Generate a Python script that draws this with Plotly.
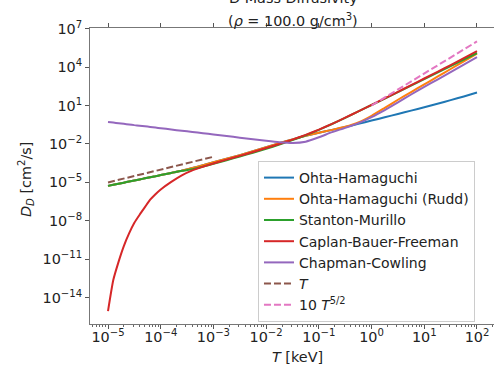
import plotly.graph_objects as go

# log10 of temperature [keV] at which the diffusivities are sampled
log_T = [-5.0, -4.9, -4.8, -4.7, -4.6, -4.5, -4.4, -4.3, -4.2, -4.1, -4.0,
         -3.8, -3.6, -3.4, -3.2, -3.0, -2.75, -2.5, -2.25, -2.0, -1.75, -1.5,
         -1.25, -1.0, -0.75, -0.5, -0.25, 0.0, 0.25, 0.5, 0.75, 1.0, 1.25,
         1.5, 1.75, 2.0]

# log10 of D_D [cm^2/s] for each model
log_D_ohta = [-5.27, -5.19, -5.10, -5.02, -4.93, -4.85, -4.77, -4.68, -4.60, -4.52, -4.43,
              -4.26, -4.09, -3.88, -3.66, -3.43, -3.15, -2.87, -2.57, -2.26, -1.95, -1.64,
              -1.36, -1.12, -0.90, -0.68, -0.43, -0.17, 0.08, 0.34, 0.60, 0.87, 1.14,
              1.42, 1.71, 2.01]
log_D_rudd = [-5.27, -5.19, -5.10, -5.02, -4.93, -4.85, -4.77, -4.68, -4.60, -4.52, -4.43,
              -4.26, -4.09, -3.88, -3.66, -3.43, -3.15, -2.87, -2.57, -2.26, -1.95, -1.64,
              -1.36, -1.12, -0.90, -0.66, -0.32, 0.20, 0.82, 1.45, 2.05, 2.65, 3.25,
              3.85, 4.45, 5.05]
log_D_stanton = [-5.27, -5.19, -5.10, -5.02, -4.93, -4.85, -4.77, -4.68, -4.60, -4.52, -4.43,
                 -4.26, -4.09, -3.98, -3.77, -3.55, -3.27, -2.98, -2.68, -2.37, -2.05, -1.70,
                 -1.32, -0.90, -0.44, 0.04, 0.54, 1.04, 1.54, 2.04, 2.55, 3.06, 3.57,
                 4.08, 4.59, 5.10]
log_D_caplan = [-15.04, -12.62, -11.20, -9.97, -8.98, -8.15, -7.52, -6.93, -6.35, -5.92, -5.55,
                -4.96, -4.45, -4.06, -3.78, -3.52, -3.22, -2.93, -2.63, -2.32, -2.00, -1.66,
                -1.29, -0.88, -0.43, 0.05, 0.55, 1.05, 1.56, 2.07, 2.59, 3.11, 3.63,
                4.16, 4.70, 5.25]
log_D_chapman = [-0.28, -0.33, -0.38, -0.43, -0.48, -0.53, -0.57, -0.62, -0.67, -0.72, -0.77,
                 -0.87, -0.97, -1.06, -1.16, -1.26, -1.38, -1.51, -1.63, -1.75, -1.86, -1.92,
                 -1.82, -1.48, -1.08, -0.74, -0.37, 0.10, 0.65, 1.25, 1.86, 2.45, 3.03,
                 3.61, 4.19, 4.78]

# reference scalings
T_lin = [1e-5, 1e-3]
D_lin = [1e-5, 1e-3]
T_pow = [1.0, 100.0]
D_pow = [10.0, 1e6]

# axis ticks
x_tick_exp = [-5, -4, -3, -2, -1, 0, 1, 2]
y_tick_exp = [7, 4, 1, -2, -5, -8, -11, -14]

FONT = "DejaVu Sans"
FS = 14.4

T = [10 ** v for v in log_T]
models = [
    ("Ohta-Hamaguchi", log_D_ohta, "#1f77b4"),
    ("Ohta-Hamaguchi (Rudd)", log_D_rudd, "#ff7f0e"),
    ("Stanton-Murillo", log_D_stanton, "#2ca02c"),
    ("Caplan-Bauer-Freeman", log_D_caplan, "#d62728"),
    ("Chapman-Cowling", log_D_chapman, "#9467bd"),
]

fig = go.Figure()
for name, vals, color in models:
    fig.add_trace(go.Scatter(
        x=T, y=[10 ** v for v in vals], mode="lines", name=name,
        line=dict(color=color, width=2, shape="spline", smoothing=0.5),
    ))
fig.add_trace(go.Scatter(
    x=T_lin, y=D_lin, mode="lines", name="<i>T</i>",
    line=dict(color="#8c564b", width=2, dash="7px,3px"),
))
fig.add_trace(go.Scatter(
    x=T_pow, y=D_pow, mode="lines", name="10 <i>T</i><sup>5/2</sup>",
    line=dict(color="#e377c2", width=2, dash="7px,3px"),
))
# carrier for the top tick axis
fig.add_trace(go.Scatter(x=[1e-5], y=[1e-5], xaxis="x2", mode="markers",
                         marker=dict(opacity=0), showlegend=False, hoverinfo="skip"))


def pow_label(e):
    return "10<sup>" + str(e).replace("-", "\u2212") + "</sup>"


minor_x = [k * 10 ** e for e in range(-6, 3) for k in range(2, 10)]

x_range = [-5.3416, 2.3226]
fig.update_layout(
    width=494, height=365,
    margin=dict(l=90, r=0, t=28, b=41),
    paper_bgcolor="white", plot_bgcolor="white",
    font=dict(family=FONT, size=FS, color="#222"),
    showlegend=True,
    legend=dict(
        x=0.4158, y=(324 - 161) / 296, xanchor="left", yanchor="top",
        bgcolor="rgba(255,255,255,0.8)", bordercolor="#cccccc", borderwidth=1,
        font=dict(family=FONT, size=14, color="#222"),
        itemwidth=30,
    ),
    xaxis=dict(
        type="log", range=x_range,
        tickmode="array", tickvals=[10 ** e for e in x_tick_exp],
        ticktext=[pow_label(e) for e in x_tick_exp],
        ticks="outside", ticklen=4, tickcolor="#555", tickwidth=1,
        ticklabelstandoff=-4,
        showline=True, linecolor="#777", linewidth=1, mirror=True,
        showgrid=False, zeroline=False,
        tickfont=dict(family=FONT, size=FS, color="#222"),
        minor=dict(tickmode="array", tickvals=minor_x, ticks="outside",
                   ticklen=2, tickcolor="#666", showgrid=False),
    ),
    xaxis2=dict(
        type="log", range=x_range, overlaying="x", side="top",
        tickmode="array", tickvals=[10 ** e for e in x_tick_exp],
        showticklabels=False, ticks="outside", ticklen=4, tickcolor="#555",
        showgrid=False, zeroline=False, showline=False,
    ),
    yaxis=dict(
        type="log", range=[-16.05, 7.05],
        tickmode="array", tickvals=[10 ** e for e in y_tick_exp],
        ticktext=[pow_label(e) for e in y_tick_exp],
        ticks="outside", ticklen=4, tickcolor="#555", tickwidth=1,
        showline=True, linecolor="#777", linewidth=1,
        showgrid=False, zeroline=False,
        tickfont=dict(family=FONT, size=FS, color="#222"),
    ),
    annotations=[
        dict(text="D Mass Diffusivity", xref="paper", yref="paper",
             x=0.5036, y=1.0997, xanchor="center", yanchor="middle",
             showarrow=False, font=dict(family=FONT, size=FS, color="#222")),
        dict(text="(<i>\u03c1</i> = 100.0 g/cm<sup>3</sup>)", xref="paper", yref="paper",
             x=0.5036, y=1.0270, xanchor="center", yanchor="middle",
             showarrow=False, font=dict(family=FONT, size=FS, color="#222")),
        dict(text="<i>T</i> [keV]", xref="paper", yref="paper",
             x=0.5135, y=(324 - 357) / 296, xanchor="center", yanchor="middle",
             showarrow=False, font=dict(family=FONT, size=FS, color="#222")),
        dict(text="<i>D</i><sub><i>D</i></sub> [cm<sup>2</sup>/s]", xref="paper", yref="paper",
             x=(26 - 90) / 404, y=(324 - 180) / 296, xanchor="center", yanchor="middle",
             textangle=-90, showarrow=False,
             font=dict(family=FONT, size=FS, color="#222")),
    ],
)

fig.write_html("out.html")
